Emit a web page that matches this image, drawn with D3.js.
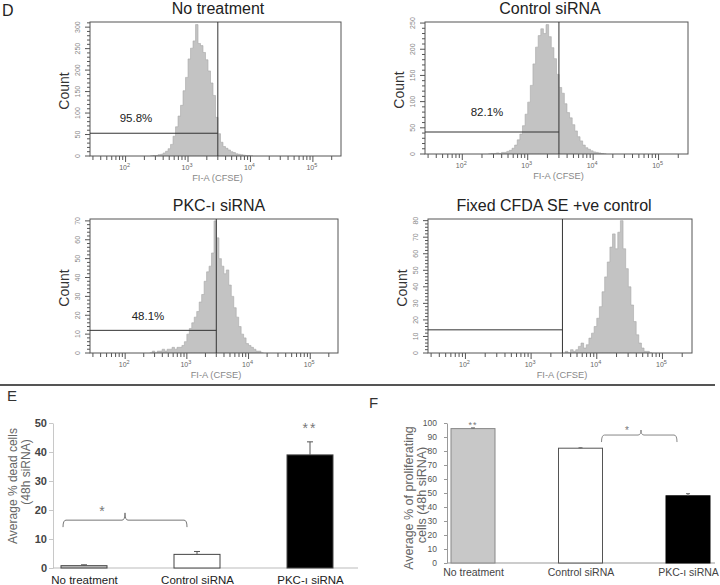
<!DOCTYPE html>
<html>
<head>
<meta charset="utf-8">
<script src="https://cdn.jsdelivr.net/npm/d3@7"></script>
<style>
body { margin: 0; background: #fff; }
text { font-family: "Liberation Sans", Arial, sans-serif; }
</style>
</head>
<body>
<div id="chart"></div>
<script>
//****************************************************************************************
// Panels D, E, F: CFSE histograms and two bar charts
//****************************************************************************************

// ---------- data: histograms (counts per bin, bins are 0.04 decade wide) ----------
const binWidth = 0.04;

const noTreatStart = 2.40;
const noTreatCounts = [0, 1, 1, 3, 4, 7, 11, 17, 27, 46, 68, 93, 118, 152, 183, 226, 251, 268, 306, 262,
    257, 241, 224, 198, 170, 141, 90, 52, 32, 22, 18, 14, 10, 8, 5, 4, 3, 2, 1, 1, 0];

const controlStart = 2.40;
const controlCounts = [0, 1, 1, 2, 1, 3, 3, 5, 7, 11, 17, 27, 38, 54, 76, 99, 131, 172, 204, 226,
    239, 230, 247, 224, 203, 182, 152, 127, 116, 96, 79, 69, 56, 44, 33, 25, 17, 12, 9, 6, 4, 3, 2, 1, 0];

const pkcStart = 2.40;
const pkcCounts = [0, 1, 0, 1, 1, 2, 1, 2, 2, 3, 2, 3, 3, 4, 6, 10, 13, 16, 19, 22,
    27, 31, 38, 43, 46, 53, 70, 61, 50, 46, 42, 44, 36, 30, 24, 19, 14, 10, 8, 5, 4, 3, 2, 1, 1, 0];

const fixedStart = 3.52;
const fixedCounts = [1, 0, 2, 1, 2, 4, 6, 3, 5, 9, 12, 16, 21, 28, 37, 46, 55, 64, 72, 63,
    73, 80, 63, 51, 40, 29, 19, 11, 6, 3, 1, 1, 0];

const panelTitles = ["No treatment", "Control siRNA", "PKC-\u0131 siRNA", "Fixed CFDA SE +ve control"];
const gateValue = 3000;                       // FI-A (CFSE) gate
const gateHeights = [53, 42, 12, 14];         // count level of the gate bar
const gatePercents = ["95.8%", "82.1%", "48.1%", ""];
const countMax = [312, 252, 71, 81];
const countMajor = [50, 50, 10, 10];
const countMinor = [10, 10, 2, 2];
const fluorDomain = [Math.pow(10, 1.43), Math.pow(10, 5.45)];

// ---------- data: bar charts ----------
const categories = ["No treatment", "Control siRNA", "PKC-\u0131 siRNA"];
const deadMean = [0.8, 4.7, 39.0];
const deadErr = [0.3, 1.0, 4.5];
const deadTicks = [0, 10, 20, 30, 40, 50];
const prolifMean = [96, 82, 48];
const prolifErr = [0.5, 0.3, 1.5];
const prolifTicks = [0, 10, 20, 30, 40, 50, 60, 70, 80, 90, 100];

// ---------- svg ----------
const svg = d3.select("#chart").append("svg")
    .attr("width", 720)
    .attr("height", 585);

svg.append("rect")
    .attr("width", 720)
    .attr("height", 585)
    .attr("fill", "#fff");

// Panel letter
svg.append("text").attr("x", 2).attr("y", 16).attr("font-size", 16).attr("fill", "#222").text("D");

// ---------- D: histograms ----------
const histograms = [
    { start: noTreatStart, counts: noTreatCounts },
    { start: controlStart, counts: controlCounts },
    { start: pkcStart, counts: pkcCounts },
    { start: fixedStart, counts: fixedCounts }
];

// plot boxes (layout only)
const boxes = [
    { x0: 90, x1: 341, y0: 22, y1: 156, tx: 218, ty: 14, lx: 46, ly: -11 },
    { x0: 425, x1: 688, y0: 22, y1: 154, tx: 550, ty: 14, lx: 62, ly: -16 },
    { x0: 90, x1: 338, y0: 219, y1: 353, tx: 219, ty: 211, lx: 58, ly: -10 },
    { x0: 428, x1: 692, y0: 219, y1: 353, tx: 554, ty: 211, lx: 0, ly: 0 }
];

histograms.forEach((h, i) => {
    const b = boxes[i];
    const g = svg.append("g").attr("class", "histo");

    const x = d3.scaleLog().domain(fluorDomain).range([b.x0, b.x1]);
    const y = d3.scaleLinear().domain([0, countMax[i]]).range([b.y1, b.y0]);

    // bins as step points
    const pts = h.counts.map((c, k) => ({ e: h.start + k * binWidth, c: c }));
    pts.push({ e: h.start + h.counts.length * binWidth, c: 0 });

    g.append("clipPath").attr("id", "clip" + i)
        .append("rect")
        .attr("x", b.x0).attr("y", b.y0)
        .attr("width", b.x1 - b.x0).attr("height", b.y1 - b.y0);

    const area = d3.area()
        .curve(d3.curveStepAfter)
        .x(d => x(Math.pow(10, d.e)))
        .y0(y(0))
        .y1(d => y(d.c));

    g.append("path")
        .datum(pts)
        .attr("clip-path", "url(#clip" + i + ")")
        .attr("d", area)
        .attr("fill", "#c3c3c3")
        .attr("stroke", "#a8a8a8")
        .attr("stroke-width", 0.6);

    // box
    g.append("rect")
        .attr("x", b.x0).attr("y", b.y0)
        .attr("width", b.x1 - b.x0).attr("height", b.y1 - b.y0)
        .attr("fill", "none")
        .attr("stroke", "#555");

    // gate
    const gx = x(gateValue);
    g.append("line")
        .attr("x1", gx).attr("x2", gx).attr("y1", b.y0).attr("y2", b.y1)
        .attr("stroke", "#333");
    g.append("line")
        .attr("x1", b.x0).attr("x2", gx)
        .attr("y1", y(gateHeights[i])).attr("y2", y(gateHeights[i]))
        .attr("stroke", "#333");
    if (gatePercents[i]) {
        g.append("text")
            .attr("x", b.x0 + b.lx).attr("y", y(gateHeights[i]) + b.ly)
            .attr("text-anchor", "middle")
            .attr("font-size", 11.5)
            .attr("fill", "#222")
            .text(gatePercents[i]);
    }

    // x axis: log ticks below box
    const xt = x.ticks();
    g.selectAll(".xtick").data(xt).join("line")
        .attr("x1", d => x(d)).attr("x2", d => x(d))
        .attr("y1", b.y1).attr("y2", d => b.y1 + (Math.log10(d) % 1 === 0 ? 6 : 4))
        .attr("stroke", "#555");
    const decades = xt.filter(d => Math.abs(Math.log10(d) - Math.round(Math.log10(d))) < 1e-9);
    const lab = g.selectAll(".xlab").data(decades).join("text")
        .attr("x", d => x(d) - 1).attr("y", b.y1 + 14)
        .attr("text-anchor", "middle")
        .attr("font-size", 7)
        .attr("fill", "#666");
    lab.append("tspan").text("10");
    lab.append("tspan").attr("dy", -3).attr("font-size", 5.5).text(d => Math.round(Math.log10(d)));

    g.append("text")
        .attr("x", (b.x0 + b.x1) / 2 + 2).attr("y", b.y1 + 25)
        .attr("text-anchor", "middle")
        .attr("font-size", 9.3)
        .attr("fill", "#888")
        .text("FI-A (CFSE)");

    // y axis: ticks left of box, rotated labels
    const minorT = d3.range(0, countMax[i] + 0.01, countMinor[i]);
    g.selectAll(".ytick").data(minorT).join("line")
        .attr("x1", b.x0).attr("x2", d => b.x0 - (d % countMajor[i] === 0 ? 5 : 3))
        .attr("y1", d => y(d)).attr("y2", d => y(d))
        .attr("stroke", "#555");
    const majorT = d3.range(0, countMax[i] + 0.01, countMajor[i]);
    g.selectAll(".ylab").data(majorT).join("text")
        .attr("transform", d => `translate(${b.x0 - 10},${y(d)}) rotate(-90)`)
        .attr("text-anchor", "middle")
        .attr("font-size", 7)
        .attr("fill", "#888")
        .text(d => d);

    g.append("text")
        .attr("transform", `translate(${b.x0 - 21},${(b.y0 + b.y1) / 2 + 2}) rotate(-90)`)
        .attr("text-anchor", "middle")
        .attr("font-size", 14)
        .attr("fill", "#333")
        .text("Count");

    // title
    g.append("text")
        .attr("x", b.tx).attr("y", b.ty)
        .attr("text-anchor", "middle")
        .attr("font-size", 16)
        .attr("fill", "#222")
        .text(panelTitles[i]);
});

// separator
svg.append("line")
    .attr("x1", 0).attr("x2", 715).attr("y1", 385).attr("y2", 385)
    .attr("stroke", "#555").attr("stroke-width", 2);

// bracket helper
function bracket(g, xl, xr, yBar, yEnd, xn, yn, color) {
    const p = d3.path();
    p.moveTo(xl, yEnd);
    p.quadraticCurveTo(xl, yBar, xl + 3, yBar);
    p.lineTo(xn - 3, yBar);
    p.quadraticCurveTo(xn, yBar, xn, yn);
    p.quadraticCurveTo(xn, yBar, xn + 3, yBar);
    p.lineTo(xr - 3, yBar);
    p.quadraticCurveTo(xr, yBar, xr, yEnd);
    g.append("path").attr("d", p.toString())
        .attr("fill", "none").attr("stroke", color).attr("stroke-width", 1);
}

// ---------- E: dead cells ----------
const gE = svg.append("g").attr("class", "panelE");
gE.append("text").attr("x", 7).attr("y", 401).attr("font-size", 15).attr("fill", "#333").text("E");

const xE = d3.scalePoint().domain(categories).range([84, 310]);
const yE = d3.scaleLinear().domain([0, 50]).range([568, 423]);
const barWE = 46;

gE.append("g")
    .attr("transform", "translate(53,0)")
    .call(d3.axisLeft(yE).tickValues(deadTicks).tickSize(4).tickPadding(2).tickSizeOuter(0))
    .call(a => a.selectAll("path, line").attr("stroke", "#c8c8c8"))
    .call(a => a.selectAll("text")
        .attr("font-family", "'DejaVu Sans', sans-serif")
        .attr("font-weight", "bold")
        .attr("font-size", 11)
        .attr("fill", "#444"));

gE.append("line")
    .attr("x1", 53).attr("x2", 358).attr("y1", yE(0)).attr("y2", yE(0))
    .attr("stroke", "#bbb");

gE.append("g")
    .attr("transform", `translate(0,${yE(0)})`)
    .call(d3.axisBottom(xE).tickSize(0).tickPadding(8))
    .call(a => a.select(".domain").remove())
    .call(a => a.selectAll("text")
        .attr("font-family", "'Liberation Sans', Arial, sans-serif")
        .attr("font-size", 11.5)
        .attr("fill", "#222"));

const deadFill = ["#c8c8c8", "#fff", "#000"];
gE.selectAll(".bar").data(categories).join("rect")
    .attr("x", d => xE(d) - barWE / 2)
    .attr("y", (d, i) => yE(deadMean[i]))
    .attr("width", barWE)
    .attr("height", (d, i) => yE(0) - yE(deadMean[i]))
    .attr("fill", (d, i) => deadFill[i])
    .attr("stroke", "#444");

gE.selectAll(".err").data(categories).join("path")
    .attr("d", (d, i) => {
        const cx = xE(d), top = yE(deadMean[i] + deadErr[i]);
        return `M${cx},${yE(deadMean[i])}V${top}M${cx - 3},${top}H${cx + 3}`;
    })
    .attr("stroke", "#555").attr("fill", "none");

bracket(gE, xE(categories[0]) - 21, xE(categories[1]) - 10, yE(16.5), yE(14.1),
    (xE(categories[0]) - 21 + xE(categories[1]) - 10) / 2, yE(19), "#777");
gE.append("text").attr("x", 102).attr("y", 516).attr("text-anchor", "middle")
    .attr("font-size", 14).attr("fill", "#777").text("*");
gE.append("text").attr("x", xE(categories[2])).attr("y", 433).attr("text-anchor", "middle")
    .attr("font-size", 14).attr("fill", "#777").attr("letter-spacing", 2).text("**");

gE.append("text")
    .attr("transform", "translate(17,486) rotate(-90)")
    .attr("text-anchor", "middle").attr("font-size", 12).attr("fill", "#666")
    .text("Average % dead cells");
gE.append("text")
    .attr("transform", "translate(30,472) rotate(-90)")
    .attr("text-anchor", "middle").attr("font-size", 12).attr("fill", "#666")
    .text("(48h siRNA)");

// ---------- F: proliferating cells ----------
const gF = svg.append("g").attr("class", "panelF");
gF.append("text").attr("x", 369).attr("y", 408).attr("font-size", 15).attr("fill", "#333").text("F");

const xF = d3.scalePoint().domain(categories).range([473, 688]);
const yF = d3.scaleLinear().domain([0, 100]).range([563, 423]);
const barWF = 44;

gF.append("g")
    .attr("transform", "translate(447,0)")
    .call(d3.axisLeft(yF).tickValues(prolifTicks).tickSize(3).tickPadding(7).tickSizeOuter(0))
    .call(a => a.selectAll("path, line").attr("stroke", "#999"))
    .call(a => a.selectAll("text")
        .attr("font-family", "'Liberation Sans Narrow', 'Liberation Sans', sans-serif")
        .attr("font-size", 8.5)
        .attr("fill", "#555"));

gF.append("line")
    .attr("x1", 447).attr("x2", 715).attr("y1", yF(0)).attr("y2", yF(0))
    .attr("stroke", "#999");

gF.append("g")
    .attr("transform", `translate(0,${yF(0)})`)
    .call(d3.axisBottom(xF).tickSize(0).tickPadding(6))
    .call(a => a.select(".domain").remove())
    .call(a => a.selectAll("text")
        .attr("font-family", "'Liberation Sans', Arial, sans-serif")
        .attr("font-size", 10.5)
        .attr("fill", "#444"));

const prolifFill = ["#c8c8c8", "#fff", "#000"];
const prolifStroke = ["#888", "#555", "#000"];
gF.selectAll(".bar").data(categories).join("rect")
    .attr("x", d => xF(d) - barWF / 2)
    .attr("y", (d, i) => yF(prolifMean[i]))
    .attr("width", barWF)
    .attr("height", (d, i) => yF(0) - yF(prolifMean[i]))
    .attr("fill", (d, i) => prolifFill[i])
    .attr("stroke", (d, i) => prolifStroke[i]);

gF.selectAll(".err").data(categories).join("path")
    .attr("d", (d, i) => {
        const cx = xF(d), top = yF(prolifMean[i] + prolifErr[i]);
        return `M${cx},${yF(prolifMean[i])}V${top}M${cx - 2},${top}H${cx + 2}`;
    })
    .attr("stroke", "#666").attr("fill", "none");

bracket(gF, xF(categories[1]) + 21, xF(categories[2]) - 11, yF(91.4), yF(86.4), 641, yF(95), "#888");
gF.append("text").attr("x", 627).attr("y", 434).attr("text-anchor", "middle")
    .attr("font-size", 10).attr("fill", "#777").text("*");
gF.append("text").attr("x", xF(categories[0])).attr("y", 428).attr("text-anchor", "middle")
    .attr("font-size", 9).attr("fill", "#777").attr("letter-spacing", 1).text("**");

gF.append("text")
    .attr("transform", "translate(413,498) rotate(-90)")
    .attr("text-anchor", "middle").attr("font-size", 12.5).attr("fill", "#666")
    .text("Average % of proliferating");
gF.append("text")
    .attr("transform", "translate(426,495) rotate(-90)")
    .attr("text-anchor", "middle").attr("font-size", 12.5).attr("fill", "#666")
    .text("cells (48h siRNA)");
</script>
</body>
</html>
